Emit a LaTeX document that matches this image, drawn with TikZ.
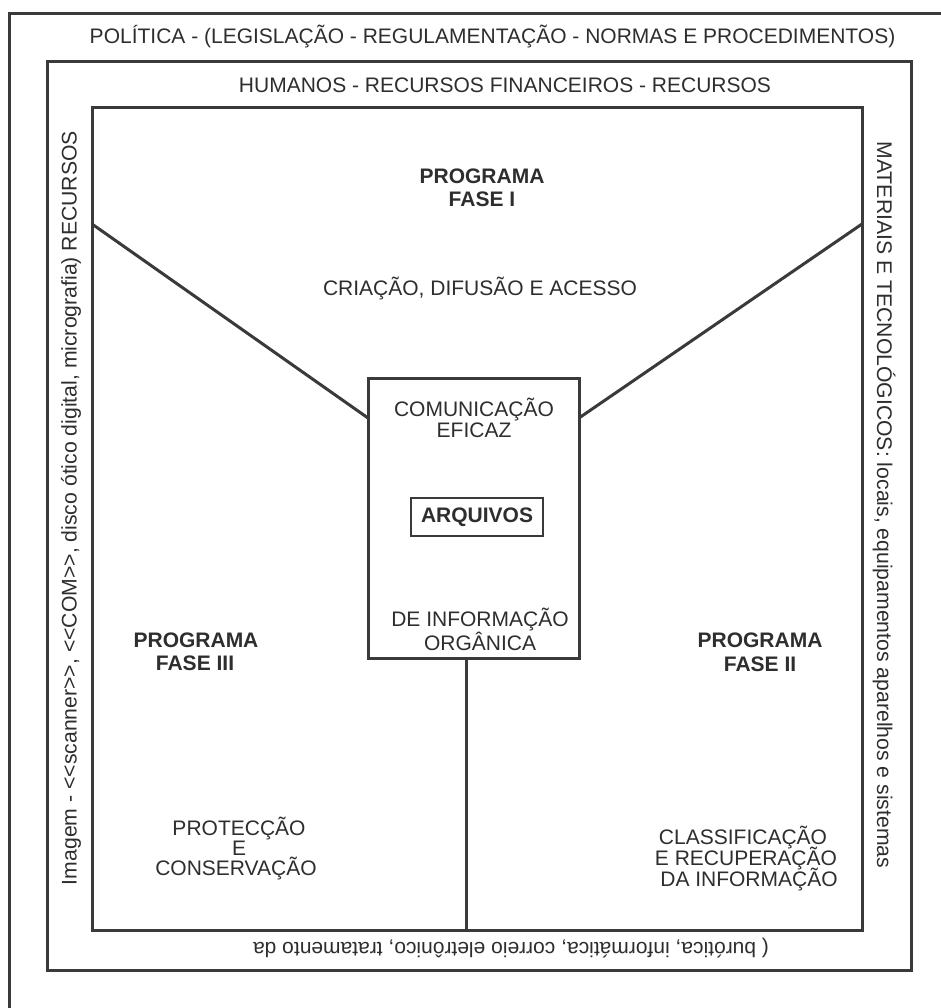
\documentclass[tikz,border=0pt]{standalone}
\usepackage{fontspec}
\setmainfont{Liberation Sans}
\definecolor{ink}{HTML}{3A3A3A}
\definecolor{txt}{HTML}{2E2E2E}
\tikzset{
  frame/.style={draw=ink, line width=3pt},
  lbl/.style={text=txt, inner sep=0pt, anchor=base, font=\fontsize{21}{24}\selectfont},
  blbl/.style={text=txt, inner sep=0pt, anchor=base, font=\fontsize{21}{24}\selectfont\bfseries},
  toplbl/.style={text=txt, inner sep=0pt, anchor=base, font=\fontsize{21}{24}\selectfont},
  sidelbl/.style={text=txt, inner sep=0pt, anchor=center, font=\fontsize{21.2}{24}\selectfont},
}
\begin{document}
\begin{tikzpicture}[x=1pt,y=-1pt]
\fill[white] (0,0) rectangle (941,1008);
\useasboundingbox (0,0) rectangle (941,1008);
% frames
\draw[frame] (9,1012) -- (9,14) -- (945,14);
\draw[frame] (47,62) rectangle (911,970);
\draw[frame] (92,108) rectangle (862,930);
% centre box
\node[frame, minimum width=211pt, minimum height=280pt, inner sep=0pt] (cbox) at (473.5,518) {};
\node[frame, line width=2.6pt, minimum width=132pt, minimum height=38pt, inner sep=0pt,
      text=txt, font=\fontsize{21}{24}\selectfont\bfseries] (arq) at (477,517) {ARQUIVOS};
% connectors
\coordinate (dl) at (92,224);
\coordinate (dr) at (862,224);
\coordinate (cl) at (368,418);
\coordinate (cr) at (579,418);
\coordinate (vt) at (466,658);
\coordinate (vb) at (466,930);
\draw[frame] (dl) -- (cl);
\draw[frame] (dr) -- (cr);
\draw[frame] (vt) -- (vb);
% top texts
\node[toplbl] (pol) at (492.5,44) {POLÍTICA - (LEGISLAÇÃO - REGULAMENTAÇÃO - NORMAS E PROCEDIMENTOS)};
\node[toplbl] (hum) at (505,93) {HUMANOS - RECURSOS FINANCEIROS - RECURSOS};
% side texts
\node[sidelbl, rotate=90] (lside) at (71,508) {Imagem - <\kern0pt<scanner>\kern0pt>, <\kern0pt<COM>\kern0pt>, disco ótico digital, micrografia) RECURSOS};
\node[sidelbl, rotate=-90] (rside) at (884,505) {MATERIAIS E TECNOLÓGICOS: locais, equipamentos aparelhos e sistemas};
\node[sidelbl, font=\fontsize{21}{24}\selectfont, rotate=180] (bot) at (511,948) {( burótica, informática, correio eletrônico, tratamento da};
% fase I
\node[blbl] (p1a) at (482,184) {PROGRAMA};
\node[blbl] (p1b) at (482,207) {FASE I};
\node[lbl] (cria) at (480,295) {CRIAÇÃO, DIFUSÃO E ACESSO};
% centre texts
\node[lbl] (com1) at (474,416) {COMUNICAÇÃO};
\node[lbl] (com2) at (474,437) {EFICAZ};
\node[lbl] (dei1) at (480,626) {DE INFORMAÇÃO};
\node[lbl] (dei2) at (480,650) {ORGÂNICA};
% fase III
\node[blbl] (p3a) at (196,647) {PROGRAMA};
\node[blbl] (p3b) at (195,670) {FASE III};
\node[lbl] (pr1) at (239,835) {PROTECÇÃO};
\node[lbl] (pr2) at (239,855) {E};
\node[lbl] (pr3) at (236,875) {CONSERVAÇÃO};
% fase II
\node[blbl] (p2a) at (760,647) {PROGRAMA};
\node[blbl] (p2b) at (760,671) {FASE II};
\node[lbl] (cl1) at (743,844) {CLASSIFICAÇÃO};
\node[lbl] (cl2) at (746,865) {E RECUPERAÇÃO};
\node[lbl] (cl3) at (749,886) {DA INFORMAÇÃO};
\end{tikzpicture}
\end{document}
